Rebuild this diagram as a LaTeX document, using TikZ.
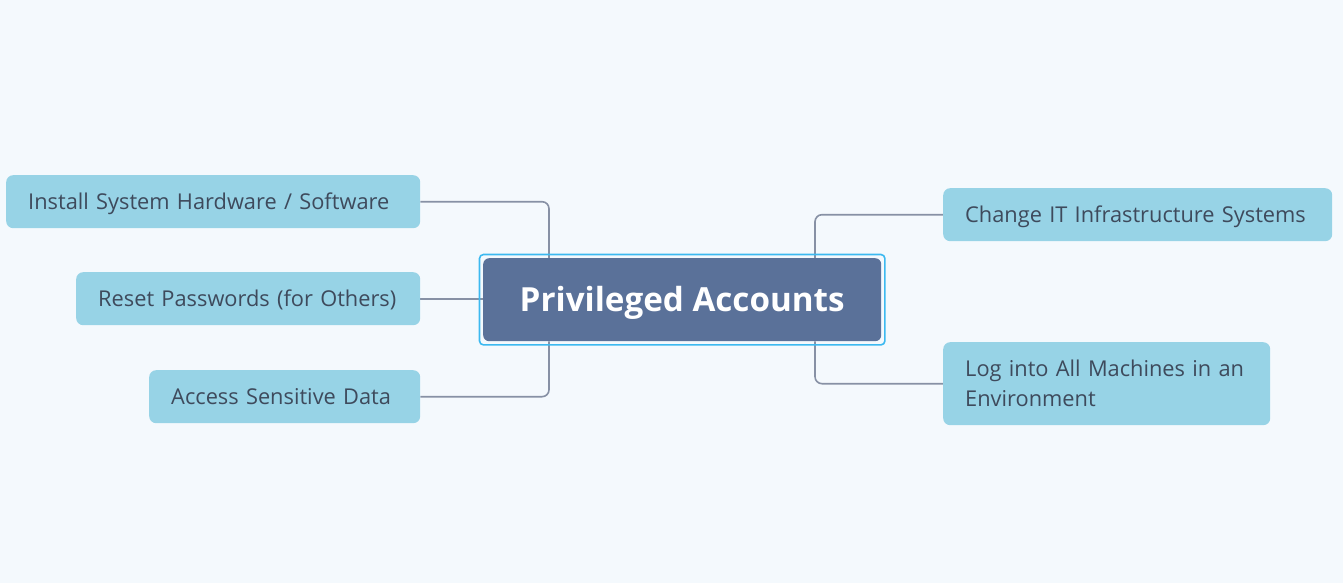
\documentclass[tikz,border=0pt]{standalone}
\usepackage{fontspec}
\setmainfont{Open Sans}
\usetikzlibrary{backgrounds}
\definecolor{bgc}{RGB}{244,249,253}
\definecolor{leaffill}{RGB}{151,211,230}
\definecolor{leaftext}{RGB}{62,74,92}
\definecolor{connc}{RGB}{135,145,165}
\definecolor{centerfill}{RGB}{90,113,153}
\definecolor{selc}{RGB}{60,185,240}
\begin{document}
\begin{tikzpicture}[x=1pt,y=-1pt,
  leaf/.style={anchor=north west,fill=leaffill,rounded corners=7pt,text=leaftext,
    font=\fontsize{21.8}{30}\selectfont,align=left,inner xsep=22pt,inner ysep=0pt},
  oneline/.style={text height=16pt,text depth=0pt,minimum height=53pt},
  conn/.style={draw=connc,line width=1.6pt,rounded corners=7pt},
  centerbox/.style={anchor=north west,fill=centerfill,rounded corners=6pt,text=white,
    font=\fontsize{33.2}{40}\selectfont\bfseries,minimum width=398pt,minimum height=83pt,inner sep=0pt,
    text height=24pt,text depth=0pt},
  selbox/.style={draw=selc,line width=1.6pt,rounded corners=4pt}]
\useasboundingbox (0,0) rectangle (1343,583);
\coordinate (tl) at (549,0);
\coordinate (tr) at (815,0);
\node[centerbox] (C) at (483,258) {Privileged Accounts};
\node[leaf,oneline,text width=370pt] (L1) at (6,175) {Install System Hardware / Software};
\node[leaf,oneline,text width=300pt] (L2) at (76,272) {Reset Passwords (for Others)};
\node[leaf,oneline,text width=227pt] (L3) at (149,370) {Access Sensitive Data};
\node[leaf,oneline,text width=345pt] (R1) at (943,188) {Change IT Infrastructure Systems};
\node[leaf,text width=283pt,minimum height=83pt] (R2) at (943,342) {Log into All Machines in an\\Environment};
\draw[selbox] ([shift={(-3.5pt,3.5pt)}]C.north west) rectangle ([shift={(3.5pt,-3.5pt)}]C.south east);
\begin{pgfonlayer}{background}
\fill[bgc] (0,0) rectangle (1343,583);
\draw[conn] (L1.east) -| (C.north -| tl);
\draw[conn] (L2.east) -- (L2.east -| C.west);
\draw[conn] (L3.east) -| (C.south -| tl);
\draw[conn] (R1.west) -| (C.north -| tr);
\draw[conn] (R2.west) -| (C.south -| tr);
\end{pgfonlayer}
\end{tikzpicture}
\end{document}
